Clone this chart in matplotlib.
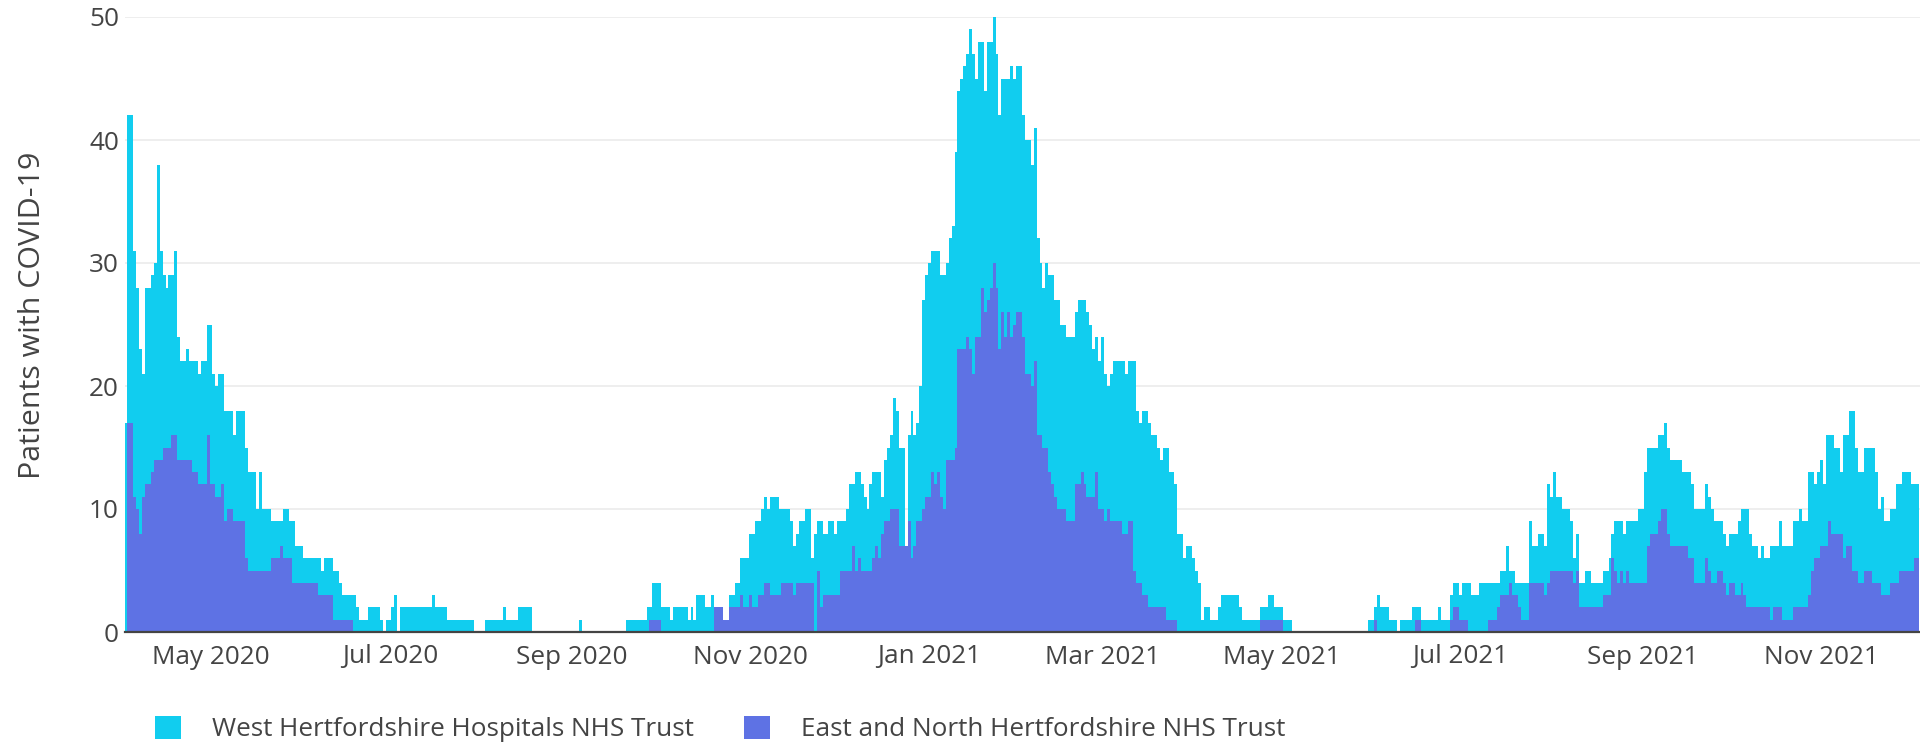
import matplotlib
matplotlib.use("Agg")
import matplotlib.pyplot as plt
import matplotlib.dates as mdates
from matplotlib.patches import Patch
import pandas as pd

plt.rcParams['font.family'] = ['Open Sans', 'DejaVu Sans']

start_date = '2020-04-02'

# daily patients (one row = 10 days)
west = [
    17, 42, 42, 31, 28, 23, 21, 28, 28, 29,
    30, 38, 31, 29, 28, 29, 29, 31, 24, 22,
    22, 23, 22, 22, 22, 21, 22, 22, 25, 25,
    21, 20, 21, 21, 18, 18, 18, 16, 18, 18,
    18, 15, 13, 13, 13, 10, 13, 10, 10, 10,
    9, 9, 9, 9, 10, 10, 9, 9, 7, 7,
    7, 6, 6, 6, 6, 6, 6, 5, 6, 6,
    6, 5, 5, 4, 3, 3, 3, 3, 3, 2,
    1, 1, 1, 2, 2, 2, 2, 1, 0, 1,
    1, 2, 3, 0, 2, 2, 2, 2, 2, 2,
    2, 2, 2, 2, 2, 3, 2, 2, 2, 2,
    1, 1, 1, 1, 1, 1, 1, 1, 1, 0,
    0, 0, 0, 1, 1, 1, 1, 1, 1, 2,
    1, 1, 1, 1, 2, 2, 2, 2, 2, 0,
    0, 0, 0, 0, 0, 0, 0, 0, 0, 0,
    0, 0, 0, 0, 0, 1, 0, 0, 0, 0,
    0, 0, 0, 0, 0, 0, 0, 0, 0, 0,
    0, 1, 1, 1, 1, 1, 1, 1, 2, 2,
    4, 4, 4, 2, 2, 2, 1, 2, 2, 2,
    2, 2, 1, 2, 1, 3, 3, 3, 2, 2,
    3, 2, 2, 2, 1, 1, 3, 3, 4, 4,
    6, 6, 6, 8, 8, 9, 9, 10, 11, 10,
    11, 11, 11, 10, 10, 10, 10, 9, 7, 8,
    9, 9, 10, 10, 6, 8, 9, 9, 8, 8,
    9, 9, 8, 9, 9, 9, 10, 12, 12, 13,
    13, 12, 11, 10, 12, 13, 13, 13, 11, 14,
    15, 16, 19, 18, 15, 15, 7, 16, 18, 16,
    17, 20, 27, 29, 30, 31, 31, 31, 29, 29,
    30, 32, 33, 39, 44, 45, 46, 47, 49, 47,
    45, 48, 48, 44, 48, 48, 50, 47, 42, 45,
    45, 45, 46, 45, 46, 46, 42, 40, 40, 38,
    41, 32, 30, 28, 30, 29, 29, 27, 27, 25,
    25, 24, 24, 24, 26, 27, 27, 27, 26, 25,
    23, 24, 22, 24, 21, 20, 21, 22, 22, 22,
    22, 21, 22, 22, 22, 18, 17, 18, 18, 17,
    16, 16, 15, 14, 15, 15, 13, 13, 12, 8,
    8, 6, 7, 7, 6, 5, 4, 1, 2, 2,
    1, 1, 1, 2, 3, 3, 3, 3, 3, 3,
    2, 1, 1, 1, 1, 1, 1, 2, 2, 2,
    3, 3, 2, 2, 2, 1, 1, 1, 0, 0,
    0, 0, 0, 0, 0, 0, 0, 0, 0, 0,
    0, 0, 0, 0, 0, 0, 0, 0, 0, 0,
    0, 0, 0, 0, 1, 1, 2, 3, 2, 2,
    2, 1, 1, 1, 0, 1, 1, 1, 1, 2,
    2, 2, 1, 1, 1, 1, 1, 1, 2, 1,
    1, 1, 3, 4, 4, 3, 4, 4, 4, 3,
    3, 3, 4, 4, 4, 4, 4, 4, 4, 5,
    5, 7, 5, 5, 4, 4, 4, 4, 4, 9,
    7, 7, 8, 8, 7, 12, 11, 13, 11, 11,
    10, 10, 10, 9, 6, 8, 4, 4, 5, 5,
    4, 4, 4, 4, 5, 5, 6, 8, 9, 9,
    9, 8, 9, 9, 9, 9, 10, 10, 13, 15,
    15, 15, 15, 16, 16, 17, 15, 14, 14, 14,
    14, 13, 13, 13, 12, 10, 10, 10, 10, 12,
    11, 10, 9, 9, 9, 8, 7, 8, 8, 8,
    9, 10, 10, 10, 8, 7, 7, 6, 7, 6,
    6, 7, 7, 7, 9, 7, 7, 7, 7, 9,
    9, 10, 9, 9, 13, 13, 12, 13, 14, 12,
    16, 16, 16, 15, 15, 13, 16, 16, 18, 18,
    15, 13, 13, 15, 15, 15, 15, 13, 10, 11,
    9, 9, 10, 10, 12, 12, 13, 13, 13, 12,
    12, 12,
]

east = [
    0, 17, 17, 11, 10, 8, 11, 12, 12, 13,
    14, 14, 14, 15, 15, 15, 16, 16, 14, 14,
    14, 14, 14, 13, 13, 12, 12, 12, 16, 12,
    12, 11, 11, 12, 9, 10, 10, 9, 9, 9,
    9, 6, 5, 5, 5, 5, 5, 5, 5, 5,
    6, 6, 6, 7, 6, 6, 6, 4, 4, 4,
    4, 4, 4, 4, 4, 4, 3, 3, 3, 3,
    3, 1, 1, 1, 1, 1, 1, 1, 0, 0,
    0, 0, 0, 0, 0, 0, 0, 0, 0, 0,
    0, 0, 0, 0, 0, 0, 0, 0, 0, 0,
    0, 0, 0, 0, 0, 0, 0, 0, 0, 0,
    0, 0, 0, 0, 0, 0, 0, 0, 0, 0,
    0, 0, 0, 0, 0, 0, 0, 0, 0, 0,
    0, 0, 0, 0, 0, 0, 0, 0, 0, 0,
    0, 0, 0, 0, 0, 0, 0, 0, 0, 0,
    0, 0, 0, 0, 0, 0, 0, 0, 0, 0,
    0, 0, 0, 0, 0, 0, 0, 0, 0, 0,
    0, 0, 0, 0, 0, 0, 0, 0, 0, 1,
    1, 1, 1, 0, 0, 0, 0, 0, 0, 0,
    0, 0, 0, 0, 0, 0, 0, 0, 0, 0,
    0, 2, 2, 2, 1, 1, 2, 2, 2, 2,
    3, 2, 2, 3, 2, 2, 3, 3, 4, 4,
    3, 3, 3, 3, 4, 4, 4, 4, 3, 4,
    4, 4, 4, 4, 4, 0, 5, 2, 3, 3,
    3, 3, 3, 3, 5, 5, 5, 5, 7, 5,
    6, 5, 5, 5, 5, 6, 7, 6, 8, 9,
    9, 10, 10, 10, 7, 7, 7, 9, 6, 7,
    9, 9, 10, 11, 11, 13, 12, 13, 11, 10,
    14, 14, 14, 15, 23, 23, 23, 24, 23, 21,
    24, 24, 28, 26, 27, 28, 30, 28, 23, 26,
    24, 26, 24, 25, 26, 26, 24, 21, 21, 20,
    22, 16, 16, 15, 15, 13, 12, 11, 10, 10,
    10, 9, 9, 9, 12, 12, 13, 12, 11, 11,
    11, 13, 10, 10, 9, 10, 9, 9, 9, 9,
    8, 8, 9, 9, 5, 4, 4, 3, 3, 2,
    2, 2, 2, 2, 2, 1, 1, 1, 1, 0,
    0, 0, 0, 0, 0, 0, 0, 0, 0, 0,
    0, 0, 0, 0, 0, 0, 0, 0, 0, 0,
    0, 0, 0, 0, 0, 0, 0, 1, 1, 1,
    1, 1, 1, 1, 1, 0, 0, 0, 0, 0,
    0, 0, 0, 0, 0, 0, 0, 0, 0, 0,
    0, 0, 0, 0, 0, 0, 0, 0, 0, 0,
    0, 0, 0, 0, 0, 0, 1, 0, 0, 0,
    0, 0, 0, 0, 0, 0, 0, 0, 0, 0,
    1, 1, 0, 0, 0, 0, 0, 0, 0, 0,
    0, 0, 1, 2, 2, 1, 1, 1, 0, 0,
    0, 0, 0, 0, 0, 1, 1, 1, 2, 3,
    3, 3, 4, 3, 3, 2, 1, 1, 1, 4,
    4, 4, 4, 4, 3, 4, 5, 5, 5, 5,
    5, 5, 5, 5, 4, 5, 2, 2, 2, 2,
    2, 2, 2, 2, 3, 3, 3, 6, 5, 4,
    5, 4, 5, 4, 4, 4, 4, 4, 4, 7,
    8, 8, 8, 9, 10, 10, 8, 7, 7, 7,
    7, 7, 7, 6, 6, 4, 4, 4, 4, 6,
    5, 4, 4, 5, 5, 4, 3, 4, 4, 3,
    3, 4, 3, 2, 2, 2, 2, 2, 2, 2,
    2, 1, 2, 2, 2, 1, 1, 1, 1, 2,
    2, 2, 2, 2, 3, 5, 6, 6, 7, 7,
    7, 9, 8, 8, 8, 8, 6, 7, 7, 5,
    5, 4, 4, 5, 5, 5, 4, 4, 4, 3,
    3, 3, 4, 4, 4, 5, 5, 5, 5, 5,
    6, 6,
]

labels = ['West Hertfordshire Hospitals NHS Trust', 'East and North Hertfordshire NHS Trust']
colors = ['#11cdef', '#5e72e4']
text_color = '#444444'
fs = 18.8

dates = pd.date_range(start_date, periods=len(west), freq='D')

W, H = 1920, 743
fig = plt.figure(figsize=(W / 100, H / 100), dpi=100)
ax = fig.add_axes([124.5 / W, (H - 632) / H, (W - 124.5) / W, (632 - 17) / H])

# overlay: east trust drawn in front of west trust
ax.bar(dates, west, width=1.0, color=colors[0], linewidth=0, zorder=2)
ax.bar(dates, east, width=1.0, color=colors[1], linewidth=0, zorder=3)

x0 = pd.Timestamp(start_date) - pd.Timedelta(hours=12)
ax.set_xlim(x0, x0 + pd.Timedelta(days=612.2))
ax.set_ylim(0, 50)

ax.set_yticks([0, 10, 20, 30, 40, 50])
ax.grid(axis='y', color='#ebebeb', linewidth=1.2, zorder=0)
ax.set_axisbelow(True)

ax.xaxis.set_major_locator(mdates.MonthLocator(bymonth=[1, 3, 5, 7, 9, 11]))
ax.xaxis.set_major_formatter(mdates.DateFormatter('%b %Y'))
ax.tick_params(axis='both', length=0, labelsize=fs, labelcolor=text_color)
ax.tick_params(axis='x', pad=9)
ax.tick_params(axis='y', pad=4)

for s in ['top', 'right', 'left']:
    ax.spines[s].set_visible(False)
ax.spines['bottom'].set_color('#444444')
ax.spines['bottom'].set_linewidth(1.6)
ax.spines['bottom'].set_zorder(5)

ax.set_ylabel('Patients with COVID-19', fontsize=21.9, color=text_color, va='center')
ax.yaxis.set_label_coords((32 - 124.5) / (W - 124.5), (632 - 315) / 615)

handles = [Patch(facecolor=c, edgecolor='none') for c in colors]
fig.legend(handles, labels, loc='center left', ncol=2, frameon=False,
           bbox_to_anchor=(155 / W, (H - 729) / H), borderaxespad=0, borderpad=0,
           fontsize=fs, labelcolor=text_color, handlelength=1.0, handleheight=1.0,
           handletextpad=1.2, columnspacing=1.9)

fig.savefig('out.png', dpi=100)
